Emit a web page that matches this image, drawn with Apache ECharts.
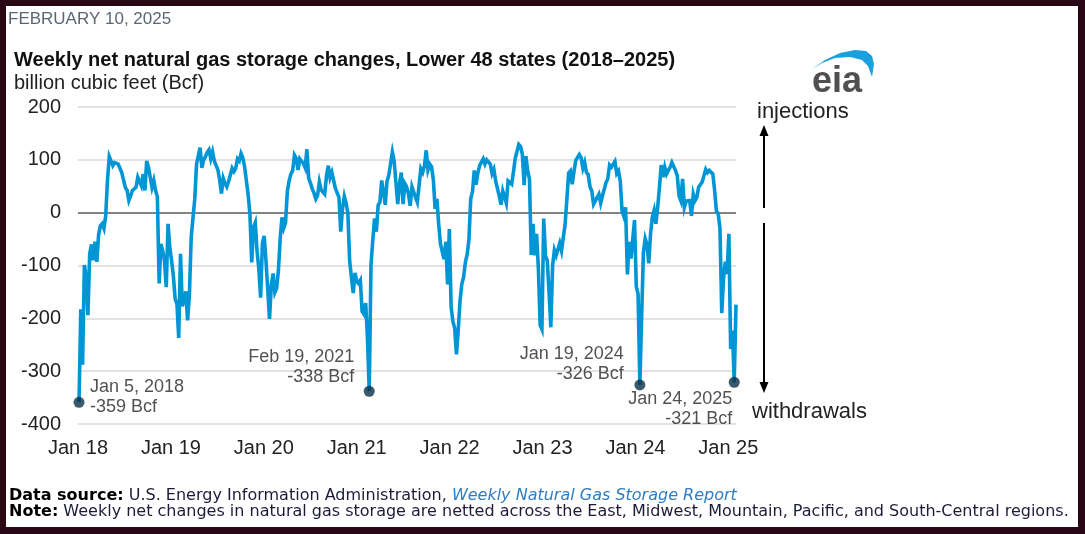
<!DOCTYPE html>
<html>
<head>
<meta charset="utf-8">
<script src="https://cdn.jsdelivr.net/npm/echarts@6/dist/echarts.min.js"></script>
<style>
html,body{margin:0;padding:0;background:#fff;}
#chart{width:1085px;height:534px;}
</style>
</head>
<body>
<div id="chart"></div>
<script>
// Weekly net storage changes (Bcf), weeks ending Fridays starting Jan 5, 2018
const firstWeekEnding = '2018-01-05';
const y2018 = [-359,-183,-288,-99,-119,-194,-78,-60,-90,-55,-93,-42,-25,-21,-30,-5,62,106,104,89,95,93,92,90,76,73,48,42,23,32,42,40,48,67,70,51,73,42,98,86,67,48,61,42,30,-134,-59,-72,-91,-141,-21,-66];
const y2019 = [-91,-120,-163,-173,-237,-78,-177,-166,-149,-204,-155,-47,-10,25,92,92,123,85,100,106,114,119,102,115,98,89,81,62,36,65,55,49,59,60,84,78,84,102,98,112,104,87,89,34,-3,-94,-28,-19,-73,-107,-161,-58];
const y2020 = [-44,-91,-92,-201,-137,-115,-151,-143,-109,-48,-9,-29,-19,40,60,73,80,109,103,81,102,102,93,85,120,65,56,45,37,26,33,58,43,45,35,70,89,66,76,75,46,49,29,-36,8,31,18,-1,-91,-122,-152,-114];
const y2021 = [-130,-134,-128,-187,-192,-171,-237,-338,-98,-52,-11,-36,14,20,61,38,15,60,71,71,115,98,98,16,55,76,16,55,49,36,13,49,46,29,20,52,83,76,88,118,81,92,87,63,7,26,-21,-59,-59,-88,-55,-136,-31];
const y2022 = [-179,-206,-219,-268,-222,-167,-135,-122,-94,-79,-51,26,40,80,53,75,89,92,102,92,100,97,92,74,82,60,58,32,15,41,44,18,60,61,54,77,103,103,129,125,111,52,107,79,64,-80,-21,-81,-40,-105,-213,-221];
const y2023 = [-11,-82,-91,-151,-217,-100,-71,-81,-84,-58,-72,-47,-23,25,75,79,54,78,99,96,110,104,84,95,76,72,49,41,16,14,29,35,18,32,33,57,64,90,86,84,97,74,79,60,3,-7,10,-117,-55,-87,-51,-14];
const y2024 = [-140,-154,-326,-197,-75,-49,-60,-96,-40,-9,4,-21,10,48,90,67,86,73,80,86,95,92,80,70,32,23,64,10,22,19,23,-6,35,23,29,48,45,58,55,82,76,80,78,73,42,3,-2,-30,-190,-125,-93,-116];
const y2025 = [-40,-258,-223,-321,-174];

// Annotated extremes
const markerDates = ['2018-01-05','2021-02-19','2024-01-19','2025-01-24'];
const markerValues = [-359,-338,-326,-321];
const markerLabels = ['Jan 5, 2018','Feb 19, 2021','Jan 19, 2024','Jan 24, 2025'];

// Axis ticks
const yTicks = [-400,-300,-200,-100,0,100,200];

const DAY = 86400000;
const YEAR = 365.25*DAY;
const t0 = Date.parse(firstWeekEnding + 'T00:00:00Z');
const values = [].concat(y2018,y2019,y2020,y2021,y2022,y2023,y2024,y2025);
const lineData = values.map((v,i)=>[t0 + i*7*DAY, v]);

const labelCfg = [
  {position:[16.5,-19.5], align:'left'},
  {position:[-9.5,-38.5], align:'right'},
  {position:[-10.5,-35.5], align:'right'},
  {position:[3.5,12.5], align:'right'}
];
const markerData = markerDates.map((d,k)=>({
  value:[Date.parse(d+'T00:00:00Z'), markerValues[k]],
  label:{show:true, position:labelCfg[k].position, align:labelCfg[k].align, verticalAlign:'top',
    formatter: markerLabels[k] + '\n' + markerValues[k] + ' Bcf'}
}));

const FONT = '"Liberation Sans", Arial, sans-serif';
const FOOT = '"DejaVu Sans", Verdana, sans-serif';
const grey = '#d9d9d9';
const chart = echarts.init(document.getElementById('chart'));
chart.setOption({
  backgroundColor:'#ffffff',
  animation:false,
  grid:{left:78, right:349, top:107, bottom:110},
  xAxis:{
    type:'value',
    min:Date.UTC(2018,0,1),
    max:Date.UTC(2025,0,31),
    interval:YEAR,
    axisLine:{show:false}, axisTick:{show:false}, splitLine:{show:false},
    axisLabel:{margin:14, color:'#222', fontSize:20, fontFamily:FONT, showMaxLabel:true,
      formatter:(v)=>{const k=v/YEAR; const r=Math.round(k); if(Math.abs(k-r)>0.01) return ''; const yr=1970+r; return 'Jan '+String(yr).slice(2);}}
  },
  yAxis:{
    type:'value', min:yTicks[0], max:yTicks[yTicks.length-1], interval:100,
    axisLine:{show:false}, axisTick:{show:false},
    axisLabel:{margin:17, color:'#222', fontSize:20, fontFamily:FONT},
    splitLine:{lineStyle:{width:1.5, color:yTicks.map(t=>t===0?'#5a5a5a':grey)}}
  },
  series:[
    {type:'line', data:lineData, showSymbol:false, symbol:'none',
     lineStyle:{color:'#0096d6', width:3.6, join:'miter', miterLimit:6}, z:2},
    {type:'scatter', data:markerData, symbolSize:11, itemStyle:{color:'#0d3147'}, z:3,
     label:{color:'#262626', fontSize:18, fontFamily:FONT, lineHeight:20}}
  ],
  graphic:[
    {type:'rect', shape:{x:0,y:0,width:1085,height:6}, style:{fill:'#2a0714'}},
    {type:'rect', shape:{x:0,y:0,width:6,height:534}, style:{fill:'#2a0714'}},
    {type:'rect', shape:{x:1078,y:0,width:7,height:534}, style:{fill:'#2a0714'}},
    {type:'rect', shape:{x:0,y:527,width:1085,height:7}, style:{fill:'#2a0714'}},
    {type:'text', style:{x:8, y:19, text:'FEBRUARY 10, 2025', font:'17px '+FONT, fill:'#5b6675', verticalAlign:'middle', textVerticalAlign:'middle'}},
    {type:'text', style:{x:14, y:60, text:'Weekly net natural gas storage changes, Lower 48 states (2018\u20132025)', font:'bold 20px '+FONT, fill:'#111', verticalAlign:'middle', textVerticalAlign:'middle'}},
    {type:'text', style:{x:14, y:83, text:'billion cubic feet (Bcf)', font:'20px '+FONT, fill:'#222', verticalAlign:'middle', textVerticalAlign:'middle'}},
    {type:'polygon', shape:{points:[[812,69],[825,60],[840,53],[855,50],[866,51],[872,56],[874,64],[872,77],[868,66],[862,60],[850,57],[835,58],[822,63]]}, style:{fill:'#1aa0dc'}},
    {type:'text', style:{x:837, y:82, text:'eia', font:'bold 36px '+FONT, fill:'#4f5052', align:'center', textAlign:'center', verticalAlign:'middle', textVerticalAlign:'middle'}},
    {type:'text', style:{x:757, y:112, text:'injections', font:'22px '+FONT, fill:'#222', verticalAlign:'middle', textVerticalAlign:'middle'}},
    {type:'text', style:{x:752, y:412, text:'withdrawals', font:'22px '+FONT, fill:'#222', verticalAlign:'middle', textVerticalAlign:'middle'}},
    {type:'line', shape:{x1:764,y1:134,x2:764,y2:208}, style:{stroke:'#000', lineWidth:2}},
    {type:'polygon', shape:{points:[[764,125],[759.5,136],[768.5,136]]}, style:{fill:'#000'}},
    {type:'line', shape:{x1:764,y1:223,x2:764,y2:384}, style:{stroke:'#000', lineWidth:2}},
    {type:'polygon', shape:{points:[[764,393],[759.5,382],[768.5,382]]}, style:{fill:'#000'}},
    {type:'text', style:{x:9, y:496, text:'{b|Data source:} U.S. Energy Information Administration, {l|Weekly Natural Gas Storage Report}', font:'16px '+FOOT, fill:'#1c1c3a', verticalAlign:'middle', textVerticalAlign:'middle',
      rich:{b:{fontWeight:'bold', fontSize:16, fontFamily:FOOT, fill:'#000', color:'#000'}, l:{fontStyle:'italic', fontSize:16, fontFamily:FOOT, fill:'#2f7dc2', color:'#2f7dc2'}}}},
    {type:'text', style:{x:9, y:512, text:'{b|Note:} Weekly net changes in natural gas storage are netted across the East, Midwest, Mountain, Pacific, and South-Central regions.', font:'16px '+FOOT, fill:'#1c1c3a', verticalAlign:'middle', textVerticalAlign:'middle',
      rich:{b:{fontWeight:'bold', fontSize:16, fontFamily:FOOT, fill:'#000', color:'#000'}}}}
  ]
});
</script>
</body>
</html>
